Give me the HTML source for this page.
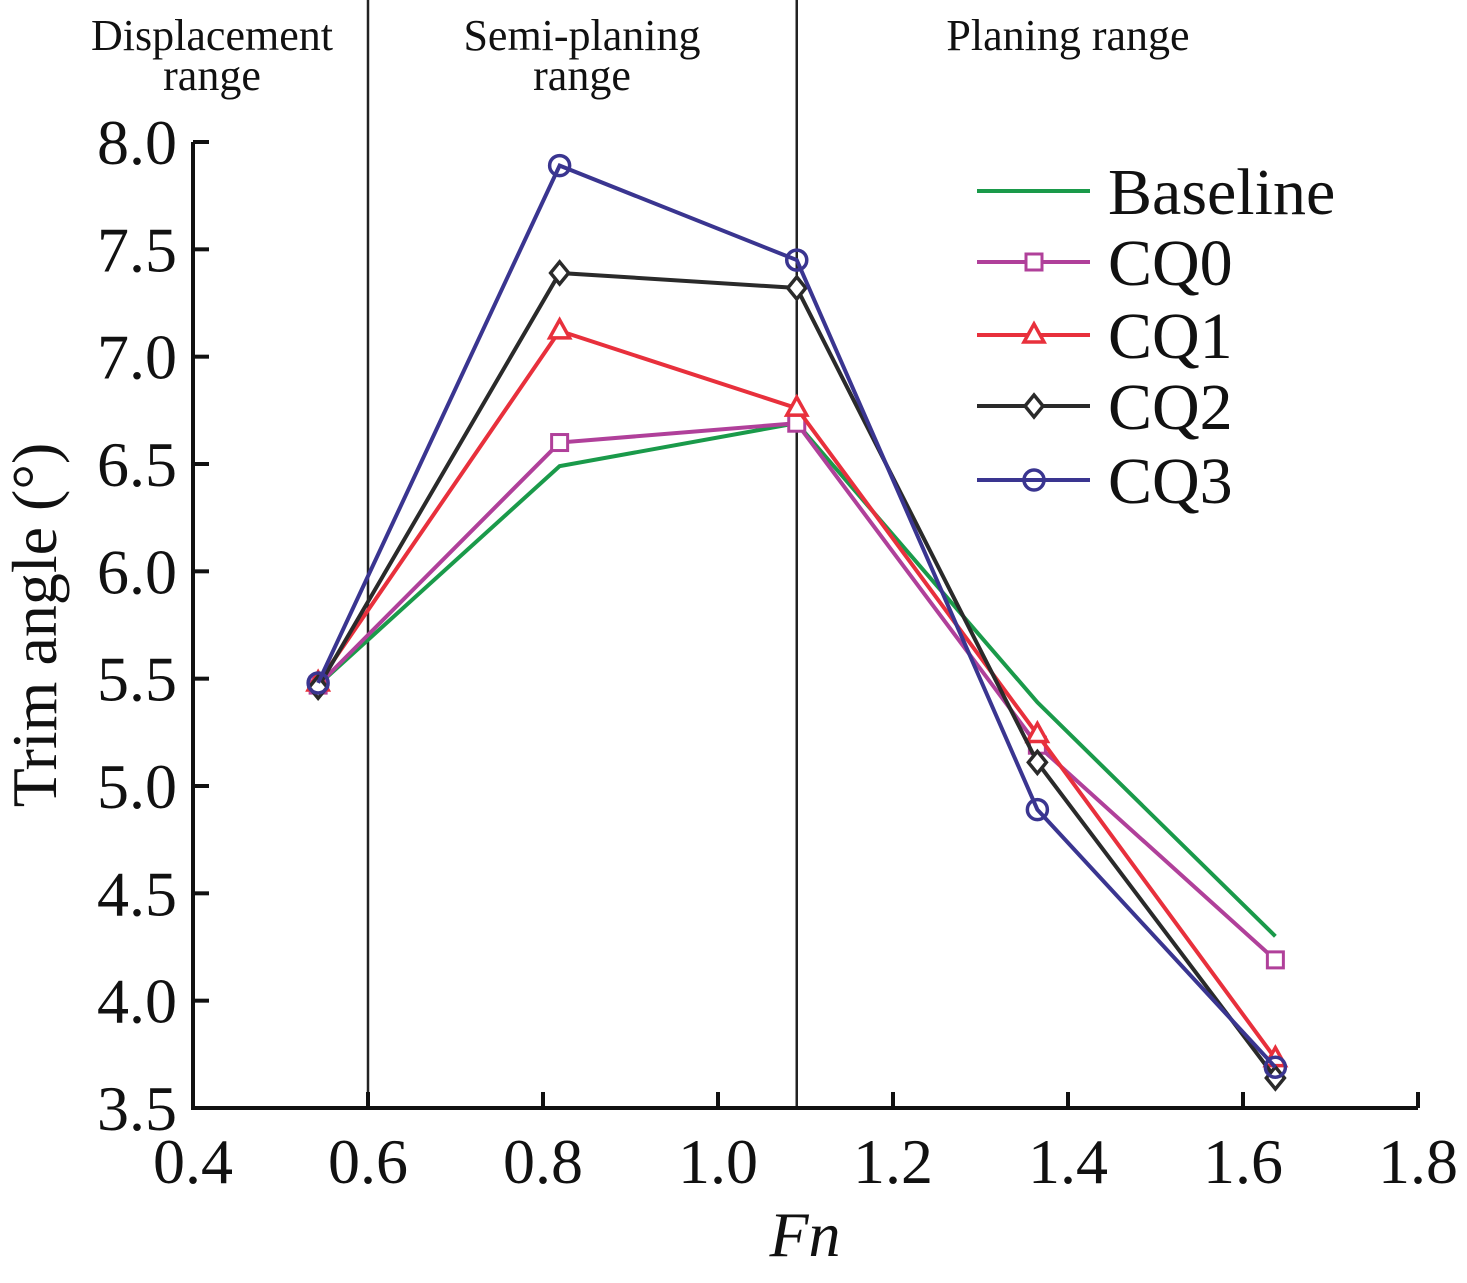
<!DOCTYPE html>
<html><head><meta charset="utf-8"><style>
html,body{margin:0;padding:0;background:#fff;}
svg{display:block;font-family:"Liberation Serif",serif;}
</style></head><body>
<svg id="chart" width="1467" height="1283" viewBox="0 0 1467 1283">
<g id="regions"></g><g id="axes"></g><g id="series"></g><g id="legend"></g>
</svg>
<script>
const xTicks=[0.4,0.6,0.8,1.0,1.2,1.4,1.6,1.8];
const yTicks=[3.5,4.0,4.5,5.0,5.5,6.0,6.5,7.0,7.5,8.0];
const fn=[0.543,0.819,1.09,1.365,1.637];
const seriesNames=["Baseline","CQ0","CQ1","CQ2","CQ3"];
const baseline=[5.47,6.49,6.69,5.39,4.30];
const cq0=[5.47,6.60,6.69,5.19,4.19];
const cq1=[5.48,7.12,6.76,5.24,3.73];
const cq2=[5.46,7.39,7.32,5.11,3.64];
const cq3=[5.48,7.89,7.45,4.89,3.69];
const regionBounds=[0.6,1.09];
const regionLabels=[["Displacement","range"],["Semi-planing","range"],["Planing range"]];

const NS="http://www.w3.org/2000/svg";
const X0=193,X1=1418,Y0=1108,Y1=142;
const xs=v=>X0+(v-0.4)/(1.8-0.4)*(X1-X0);
const ys=v=>Y0-(v-3.5)/(8.0-3.5)*(Y0-Y1);
function mk(tag,attrs,parent){const e=document.createElementNS(NS,tag);for(const k in attrs)e.setAttribute(k,attrs[k]);parent.appendChild(e);return e;}
const gR=document.getElementById('regions'),gA=document.getElementById('axes'),gS=document.getElementById('series'),gL=document.getElementById('legend');

regionBounds.forEach(b=>{const l=mk('line',{x1:xs(b),x2:xs(b),y1:0,y2:Y0,stroke:'#222','stroke-width':2.5},gR);

});
const rc=[212,582,1068];
regionLabels.forEach((lines,i)=>{lines.forEach((t,j)=>{const e=mk('text',{x:rc[i],y:50+j*40,'font-size':44,'text-anchor':'middle',fill:'#111'},gR);e.textContent=t;

});});

const ax=mk('path',{d:`M${X0},${Y1} V${Y0} H${X1}`,fill:'none',stroke:'#111','stroke-width':4},gA);


xTicks.forEach(v=>{mk('line',{x1:xs(v),x2:xs(v),y1:Y0,y2:Y0-16,stroke:'#111','stroke-width':4},gA);
const t=mk('text',{x:xs(v),y:Y0+75,'font-size':64,'text-anchor':'middle',fill:'#111'},gA);t.textContent=v.toFixed(1);

});
yTicks.forEach(v=>{mk('line',{x1:X0,x2:X0+16,y1:ys(v),y2:ys(v),stroke:'#111','stroke-width':4},gA);
const t=mk('text',{x:X0-16,y:ys(v)+22,'font-size':64,'text-anchor':'end',fill:'#111'},gA);t.textContent=v.toFixed(1);

});
const xt=mk('text',{x:805,y:1256,'font-size':64,'font-style':'italic','text-anchor':'middle',fill:'#111'},gA);xt.textContent='Fn';


const yt=mk('text',{x:0,y:0,'font-size':64,'text-anchor':'middle',fill:'#111',transform:'translate(56,625) rotate(-90)'},gA);yt.textContent='Trim angle (°)';



const colors=['#1a9a4a','#b0409a','#e8303c','#2a2a2a','#3a3590'];
const markers=[null,'square','triangle','diamond','circle'];
const data=[baseline,cq0,cq1,cq2,cq3];
function marker(type,x,y,c,g){let e;
if(type==='square')e=mk('rect',{x:x-8,y:y-8,width:16,height:16,fill:'#fff',stroke:c,'stroke-width':3},g);
else if(type==='triangle')e=mk('polygon',{points:`${x},${y-11} ${x+10},${y+7} ${x-10},${y+7}`,fill:'#fff',stroke:c,'stroke-width':3.5},g);
else if(type==='diamond')e=mk('polygon',{points:`${x},${y-11} ${x+9},${y} ${x},${y+11} ${x-9},${y}`,fill:'#fff',stroke:c,'stroke-width':3.5},g);
else if(type==='circle')e=mk('circle',{cx:x,cy:y,r:10,fill:'none',stroke:c,'stroke-width':3.5},g);
return e;}
data.forEach((arr,i)=>{const g=mk('g',{},gS);


const p=mk('polyline',{points:arr.map((v,k)=>xs(fn[k])+','+ys(v)).join(' '),fill:'none',stroke:colors[i],'stroke-width':4},g);


if(markers[i])arr.forEach((v,k)=>{const m=marker(markers[i],xs(fn[k]),ys(v),colors[i],g);

});});

const legY=[191,262,335,406,480];
seriesNames.forEach((n,i)=>{const g=mk('g',{},gL);


mk('line',{x1:977,x2:1090,y1:legY[i],y2:legY[i],stroke:colors[i],'stroke-width':4},g);
if(markers[i])marker(markers[i],1034,legY[i],colors[i],g);
const t=mk('text',{x:1108,y:legY[i]+23,'font-size':66,fill:'#111'},g);t.textContent=n;});
</script>
</body></html>
